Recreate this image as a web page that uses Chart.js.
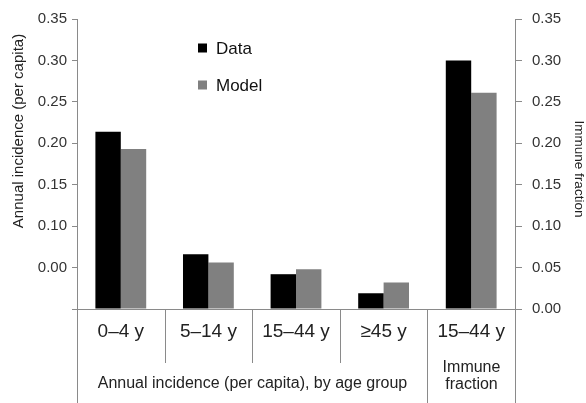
<!DOCTYPE html>
<html>
<head>
<meta charset="utf-8">
<script src="https://cdn.jsdelivr.net/npm/chart.js@4"></script>
<style>
  html, body { margin: 0; padding: 0; background: #fff; }
  #wrap { width: 586px; height: 403px; }
</style>
</head>
<body>
<div id="wrap"><canvas id="chart" width="586" height="403"></canvas></div>
<script>
// Age groups plus the immune fraction group
var categories = ['0\u20134 y', '5\u201314 y', '15\u201344 y', '\u226545 y', '15\u201344 y'];
var incidenceData = [0.214, 0.066, 0.042, 0.019];
var incidenceModel = [0.193, 0.056, 0.048, 0.032];
var immuneData = [0.300];
var immuneModel = [0.261];
var leftTickLabels = ['', '0.00', '0.10', '0.15', '0.20', '0.25', '0.30', '0.35'];
var rightTickLabels = ['0.00', '0.05', '0.10', '0.15', '0.20', '0.25', '0.30', '0.35'];
var groupLabels = ['Annual incidence (per capita), by age group', ['Immune', 'fraction']];
var axisTitles = ['Annual incidence (per capita)', 'Immune fraction'];

var FONT = "'Liberation Sans', Arial, sans-serif";
var AXIS = '#8a8a8a';

function pad(arr, before, after) {
    var out = [];
    for (var i = 0; i < before; i++) out.push(null);
    out = out.concat(arr);
    for (var j = 0; j < after; j++) out.push(null);
    return out;
}

var groupPlugin = {
    id: 'groups',
    afterDraw: function (chart) {
        var ctx = chart.ctx;
        var xs = chart.scales.x;
        var area = chart.chartArea;
        var half = (xs.getPixelForValue(1) - xs.getPixelForValue(0)) / 2;
        var bounds = [];
        for (var i = 0; i <= categories.length; i++) {
            bounds.push(Math.round(xs.getPixelForValue(0) - half + i * half * 2) + 0.5);
        }
        ctx.save();
        ctx.strokeStyle = AXIS;
        ctx.lineWidth = 1;
        bounds.forEach(function (b, i) {
            var long = (i === 0 || i === 4 || i === 5);
            ctx.beginPath();
            ctx.moveTo(b, area.bottom);
            ctx.lineTo(b, long ? chart.height : area.bottom + 54);
            ctx.stroke();
        });

        ctx.fillStyle = '#222';
        ctx.textAlign = 'center';
        ctx.textBaseline = 'middle';
        ctx.font = '16px ' + FONT;
        ctx.fillText(groupLabels[0], (bounds[0] + bounds[4]) / 2, area.bottom + 75);
        ctx.fillText(groupLabels[1][0], (bounds[4] + bounds[5]) / 2, area.bottom + 59);
        ctx.fillText(groupLabels[1][1], (bounds[4] + bounds[5]) / 2, area.bottom + 76);

        // axis titles
        ctx.font = '15px ' + FONT;
        ctx.save();
        ctx.translate(19, area.top + 112);
        ctx.rotate(-Math.PI / 2);
        ctx.fillText(axisTitles[0], 0, 0);
        ctx.restore();
        ctx.font = '13.5px ' + FONT;
        ctx.save();
        ctx.translate(579, area.top + 150);
        ctx.rotate(Math.PI / 2);
        ctx.fillText(axisTitles[1], 0, 0);
        ctx.restore();

        // legend
        var items = [chart.data.datasets[0], chart.data.datasets[1]];
        var lx = area.left + 121;
        var ly = area.top + 29;
        ctx.textAlign = 'left';
        ctx.font = '17px ' + FONT;
        items.forEach(function (ds, k) {
            var yy = ly + k * 37;
            ctx.fillStyle = ds.backgroundColor;
            ctx.fillRect(lx, yy - 4.5, 9, 9);
            ctx.fillStyle = '#111';
            ctx.fillText(ds.label, lx + 18, yy + 1);
        });
        ctx.restore();
    }
};

var ctx = document.getElementById('chart').getContext('2d');
var chart = new Chart(ctx, {
    type: 'bar',
    data: {
        labels: categories,
        datasets: [
            { label: 'Data', data: pad(incidenceData, 0, 1), yAxisID: 'y', backgroundColor: '#000000' },
            { label: 'Model', data: pad(incidenceModel, 0, 1), yAxisID: 'y', backgroundColor: '#808080' },
            { label: 'Data', data: pad(immuneData, 4, 0), yAxisID: 'y2', backgroundColor: '#000000' },
            { label: 'Model', data: pad(immuneModel, 4, 0), yAxisID: 'y2', backgroundColor: '#808080' }
        ]
    },
    options: {
        responsive: false,
        animation: false,
        skipNull: true,
        categoryPercentage: 0.58,
        barPercentage: 1.0,
        layout: { padding: { top: 18, left: 0, right: 0, bottom: 0 } },
        plugins: { legend: { display: false }, tooltip: { enabled: false } },
        scales: {
            x: {
                offset: true,
                grid: { display: false, drawTicks: false },
                border: { color: AXIS },
                ticks: { font: { family: FONT, size: 19 }, color: '#222', padding: 11, maxRotation: 0, autoSkip: false },
                afterFit: function (s) { s.height = 94; }
            },
            y: {
                position: 'left',
                min: 0, max: 0.35,
                ticks: {
                    stepSize: 0.05,
                    padding: 5,
                    font: { family: FONT, size: 15 },
                    color: '#333',
                    callback: function (v) { return leftTickLabels[Math.round(v * 20)]; }
                },
                grid: { drawOnChartArea: false, tickLength: 5, color: AXIS },
                border: { color: AXIS },
                afterFit: function (s) { s.width = 77; }
            },
            y2: {
                position: 'right',
                min: 0, max: 0.35,
                ticks: {
                    stepSize: 0.05,
                    padding: 10,
                    font: { family: FONT, size: 15 },
                    color: '#333',
                    callback: function (v) { return rightTickLabels[Math.round(v * 20)]; }
                },
                grid: { drawOnChartArea: false, tickLength: 7, color: AXIS },
                border: { color: AXIS },
                afterFit: function (s) { s.width = 71; }
            }
        }
    },
    plugins: [groupPlugin]
});
</script>
</body>
</html>
